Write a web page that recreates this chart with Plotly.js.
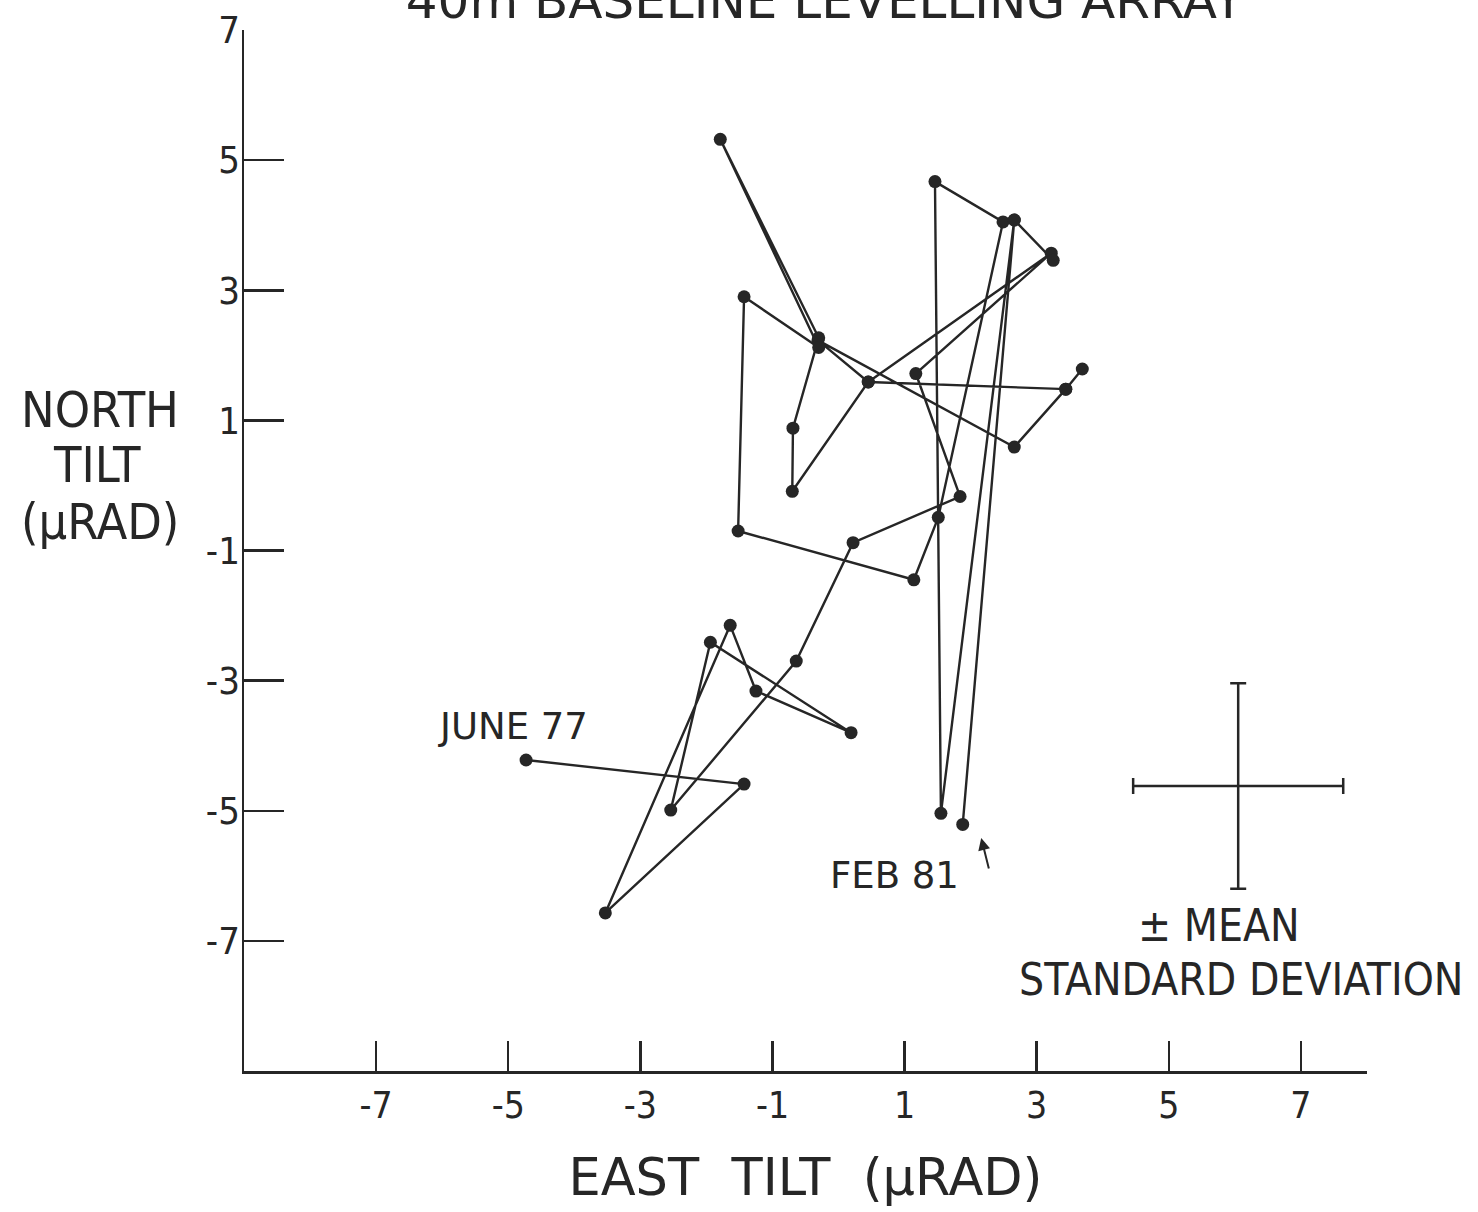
<!DOCTYPE html>
<html>
<head>
<meta charset="utf-8">
<script src="https://cdn.plot.ly/plotly-3.0.1.min.js"></script>
<style>
  html, body { margin: 0; padding: 0; background: #fff; }
  #chart { width: 1478px; height: 1212px; }
</style>
</head>
<body>
<div id="chart"></div>
<script>
// Tilt path, in time order from June 77 to Feb 81 (µrad)
const eastTilt  = [-4.73, -1.43, -3.53, -1.64, -1.25, 0.19, -1.94, -2.54, -0.64, 0.22,
                    1.84, 1.17, 3.22, 0.45, 3.44, 3.69, 3.44, 2.66, -0.31, 0.45,
                   -0.70, -0.69, -0.30, -1.79, -0.30, -1.43, -1.52, 1.14, 1.51, 2.49,
                    1.46, 1.55, 2.66, 3.25, 2.66, 1.88];
const northTilt = [-4.22, -4.59, -6.57, -2.15, -3.16, -3.80, -2.41, -4.99, -2.70, -0.88,
                   -0.17, 1.72, 3.57, 1.59, 1.48, 1.79, 1.48, 0.59, 2.23, 1.59,
                   -0.09, 0.88, 2.27, 5.32, 2.12, 2.90, -0.70, -1.45, -0.49, 4.05,
                    4.67, -5.04, 4.08, 3.46, 4.08, -5.21];

// Mean standard deviation cross
const sdCenterX = [6.05];
const sdCenterY = [-4.62];
const sdEast = [1.59];
const sdNorth = [1.58];

// Axis ticks
const xTickVals = [-7, -5, -3, -1, 1, 3, 5, 7];
const xTickText = ["-7", "-5", "-3", "-1", "1", "3", "5", "7"];
const yTickVals = [-7, -5, -3, -1, 1, 3, 5, 7];
const yTickText = ["-7", "-5", "-3", "-1", "1", "3", "5", "7"];

const ink = "#262626";
const FONT = "DejaVu Sans Condensed, Liberation Sans Narrow, DejaVu Sans, sans-serif";
const WIDE = "DejaVu Sans, Verdana, sans-serif";

const traces = [
  {
    type: "scatter", mode: "lines+markers",
    x: eastTilt, y: northTilt,
    line: { color: ink, width: 2.4 },
    marker: { color: ink, size: 13 },
    hoverinfo: "x+y", showlegend: false
  },
  {
    type: "scatter", mode: "markers",
    x: sdCenterX, y: sdCenterY,
    marker: { color: ink, size: 1, opacity: 0 },
    error_x: { type: "data", array: sdEast, visible: true, color: ink, thickness: 2.5, width: 8 },
    error_y: { type: "data", array: sdNorth, visible: true, color: ink, thickness: 2.5, width: 8 },
    showlegend: false, hoverinfo: "skip"
  }
];

const layout = {
  width: 1478, height: 1212,
  paper_bgcolor: "#fff", plot_bgcolor: "#fff",
  margin: { l: 244, r: 111, t: 30, b: 141 },
  showlegend: false,
  font: { family: FONT, color: ink },
  title: {
    text: "40m BASELINE LEVELLING ARRAY",
    font: { family: WIDE, size: 50, color: ink },
    x: 0.558, xanchor: "center",
    y: 1.0, yref: "container", yanchor: "middle"
  },
  xaxis: {
    range: [-9, 8],
    showgrid: false, zeroline: false,
    showline: true, linecolor: ink, linewidth: 2.5,
    ticks: "inside", ticklen: 30, tickwidth: 2.5, tickcolor: ink,
    tickmode: "array", tickvals: xTickVals, ticktext: xTickText,
    tickfont: { family: FONT, size: 37, color: ink },
    title: { text: "EAST  TILT  (µRAD)", font: { family: WIDE, size: 51, color: ink }, standoff: 34 }
  },
  yaxis: {
    range: [-9, 7],
    showgrid: false, zeroline: false,
    showline: true, linecolor: ink, linewidth: 2.5,
    ticks: "inside", ticklen: 40, tickwidth: 2.5, tickcolor: ink,
    ticklabelstandoff: -6,
    tickmode: "array", tickvals: yTickVals, ticktext: yTickText,
    tickfont: { family: FONT, size: 38, color: ink }
  },
  annotations: [
    { text: "NORTH", xref: "paper", yref: "paper", x: -0.128, y: 0.635, showarrow: false,
      font: { family: FONT, size: 50, color: ink }, xanchor: "center", yanchor: "middle" },
    { text: "TILT", xref: "paper", yref: "paper", x: -0.131, y: 0.582, showarrow: false,
      font: { family: FONT, size: 50, color: ink }, xanchor: "center", yanchor: "middle" },
    { text: "(µRAD)", xref: "paper", yref: "paper", x: -0.128, y: 0.527, showarrow: false,
      font: { family: FONT, size: 50, color: ink }, xanchor: "center", yanchor: "middle" },
    { text: "JUNE 77", x: -4.93, y: -3.70, showarrow: false,
      font: { family: WIDE, size: 37, color: ink }, xanchor: "center", yanchor: "middle" },
    { text: "FEB 81", x: 0.84, y: -6.0, showarrow: false,
      font: { family: WIDE, size: 37, color: ink }, xanchor: "center", yanchor: "middle" },
    { text: "", x: 2.16, y: -5.42, showarrow: true, arrowhead: 2, arrowsize: 1.2,
      arrowwidth: 2, arrowcolor: ink, ax: 8, ay: 32 },
    { text: "± MEAN", x: 5.76, y: -6.76, showarrow: false,
      font: { family: FONT, size: 44, color: ink }, xanchor: "center", yanchor: "middle" },
    { text: "STANDARD DEVIATION", x: 6.09, y: -7.60, showarrow: false,
      font: { family: FONT, size: 44, color: ink }, xanchor: "center", yanchor: "middle" }
  ]
};

Plotly.newPlot("chart", traces, layout, { displayModeBar: false, staticPlot: true });
</script>
</body>
</html>
